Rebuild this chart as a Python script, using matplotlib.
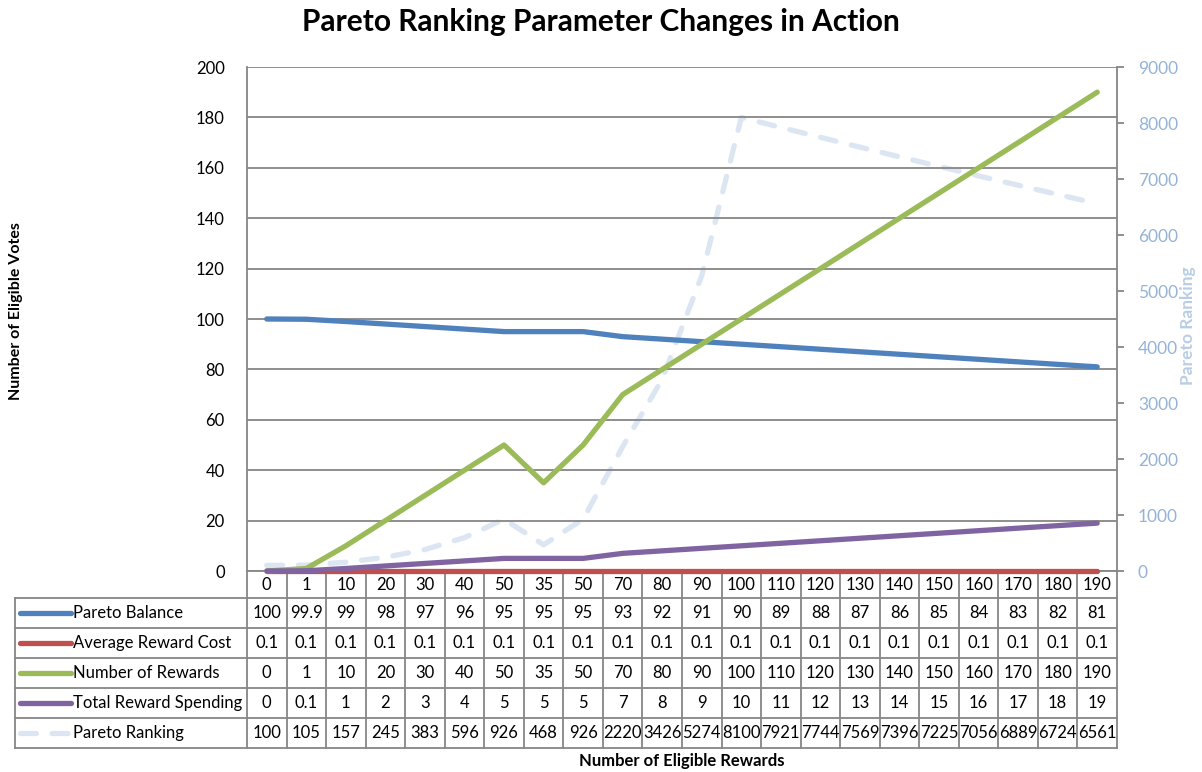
import matplotlib
matplotlib.use("Agg")
import matplotlib.pyplot as plt

W, H, DPI = 1202, 772, 100

categories = ["0", "1", "10", "20", "30", "40", "50", "35", "50", "70", "80",
              "90", "100", "110", "120", "130", "140", "150", "160", "170", "180", "190"]
pareto_balance = [100, 99.9, 99, 98, 97, 96, 95, 95, 95, 93, 92, 91, 90,
                  89, 88, 87, 86, 85, 84, 83, 82, 81]
avg_reward_cost = [0.1] * 22
number_of_rewards = [0, 1, 10, 20, 30, 40, 50, 35, 50, 70, 80, 90, 100,
                     110, 120, 130, 140, 150, 160, 170, 180, 190]
total_spending = [0, 0.1, 1, 2, 3, 4, 5, 5, 5, 7, 8, 9, 10,
                  11, 12, 13, 14, 15, 16, 17, 18, 19]
pareto_ranking = [100, 105, 157, 245, 383, 596, 926, 468, 926, 2220, 3426, 5274,
                  8100, 7921, 7744, 7569, 7396, 7225, 7056, 6889, 6724, 6561]

series = [
    ("Pareto Balance", pareto_balance, "#4F81BD"),
    ("Average Reward Cost", avg_reward_cost, "#C0504D"),
    ("Number of Rewards", number_of_rewards, "#9BBB59"),
    ("Total Reward Spending", total_spending, "#8064A2"),
]
RANK_NAME, RANK_COLOR = "Pareto Ranking", "#DCE6F2"

GRID = "#868686"
RIGHT_TXT = "#95B3D7"
LW = 3.8
FS = 12

plt.rcParams["font.family"] = ["Lato", "DejaVu Sans"]


def px_box(left, top, right, bottom):
    return [left / W, 1 - bottom / H, (right - left) / W, (bottom - top) / H]


fig = plt.figure(figsize=(W / DPI, H / DPI), dpi=DPI)

ax = fig.add_axes(px_box(247, 67, 1117, 571))
ax2 = ax.twinx()
ax.set_zorder(ax2.get_zorder() + 1)
ax.patch.set_visible(False)

x = list(range(len(categories)))
for name, vals, color in series:
    ax.plot(x, vals, color=color, lw=LW, solid_capstyle="round",
            solid_joinstyle="round", clip_on=False, zorder=3)
ax2.plot(x, pareto_ranking, color=RANK_COLOR, lw=LW, dashes=(3, 3),
         dash_capstyle="round", dash_joinstyle="round", clip_on=False)

ax.set_xlim(-0.5, len(categories) - 0.5)
ax.set_ylim(0, 200)
ax.set_yticks(range(0, 201, 20))
ax.grid(axis="y", color=GRID, lw=1.3)
ax.set_axisbelow(True)
ax.tick_params(axis="x", bottom=False, labelbottom=False)
ax.tick_params(axis="y", length=0, labelsize=FS, pad=16)
for s in ("top", "right"):
    ax.spines[s].set_visible(False)
for s in ("left", "bottom"):
    ax.spines[s].set_color(GRID)
    ax.spines[s].set_linewidth(1.3)

ax2.set_ylim(0, 9000)
ax2.set_yticks(range(0, 9001, 1000))
ax2.tick_params(axis="y", length=5, color=GRID, width=1.3, labelcolor=RIGHT_TXT,
                labelsize=12.5, pad=10)
for s in ("left", "top", "bottom"):
    ax2.spines[s].set_visible(False)
ax2.spines["right"].set_color(GRID)
ax2.spines["right"].set_linewidth(1.3)

# data table under the plot
tax = fig.add_axes(px_box(247, 571, 1117, 748))
tax.set_xlim(-0.5, len(categories) - 0.5)
tax.set_ylim(5.9, 0)
tax.axis("off")

col_w = 870 / len(categories)
lab_left = -0.5 - (247 - 15) / col_w
rows_y = [0, 0.9, 1.9, 2.9, 3.9, 4.9, 5.9]
line_kw = dict(color=GRID, lw=1.3, clip_on=False)

for i in range(len(categories) + 1):
    tax.plot([i - 0.5, i - 0.5], [0, 5.9], **line_kw)
tax.plot([lab_left, lab_left], [0.9, 5.9], **line_kw)
for yy in rows_y[1:]:
    tax.plot([lab_left, len(categories) - 0.5], [yy, yy], **line_kw)

for i, c in enumerate(categories):
    tax.text(i, 0.47, c, ha="center", va="center", fontsize=FS)

table_rows = [(n, v, c, None) for n, v, c in series]
table_rows.append((RANK_NAME, pareto_ranking, RANK_COLOR, (3, 3)))

sx0 = -0.5 + (20 - 247) / col_w
sx1 = -0.5 + (71 - 247) / col_w
for r, (name, vals, color, dash) in enumerate(table_rows):
    yc = rows_y[r + 1] + 0.5
    if dash is None:
        tax.plot([sx0, sx1], [yc, yc], color=color, lw=LW, solid_capstyle="round",
                 clip_on=False)
    else:
        tax.plot([sx0, sx1], [yc, yc], color=color, lw=LW, dashes=dash,
                 dash_capstyle="round", clip_on=False)
    tax.text(sx1 + 0.05, yc, name, ha="left", va="center", fontsize=FS)
    for i, v in enumerate(vals):
        tax.text(i, yc, f"{v:g}", ha="center", va="center", fontsize=FS)

fig.text(0.5, 1 - 22 / H, "Pareto Ranking Parameter Changes in Action",
         ha="center", va="center", fontsize=21.5, fontweight="bold")
fig.text(16 / W, 1 - 311 / H, "Number of Eligible Votes", rotation=90,
         ha="center", va="center", fontsize=11.5, fontweight="bold")
fig.text(1188 / W, 1 - 326 / H, "Pareto Ranking", rotation=90, color="#B9CDE5",
         ha="center", va="center", fontsize=12.5, fontweight="bold")
fig.text(682 / W, 1 - 761 / H, "Number of Eligible Rewards",
         ha="center", va="center", fontsize=12, fontweight="bold")

fig.savefig("out.png", dpi=DPI)
